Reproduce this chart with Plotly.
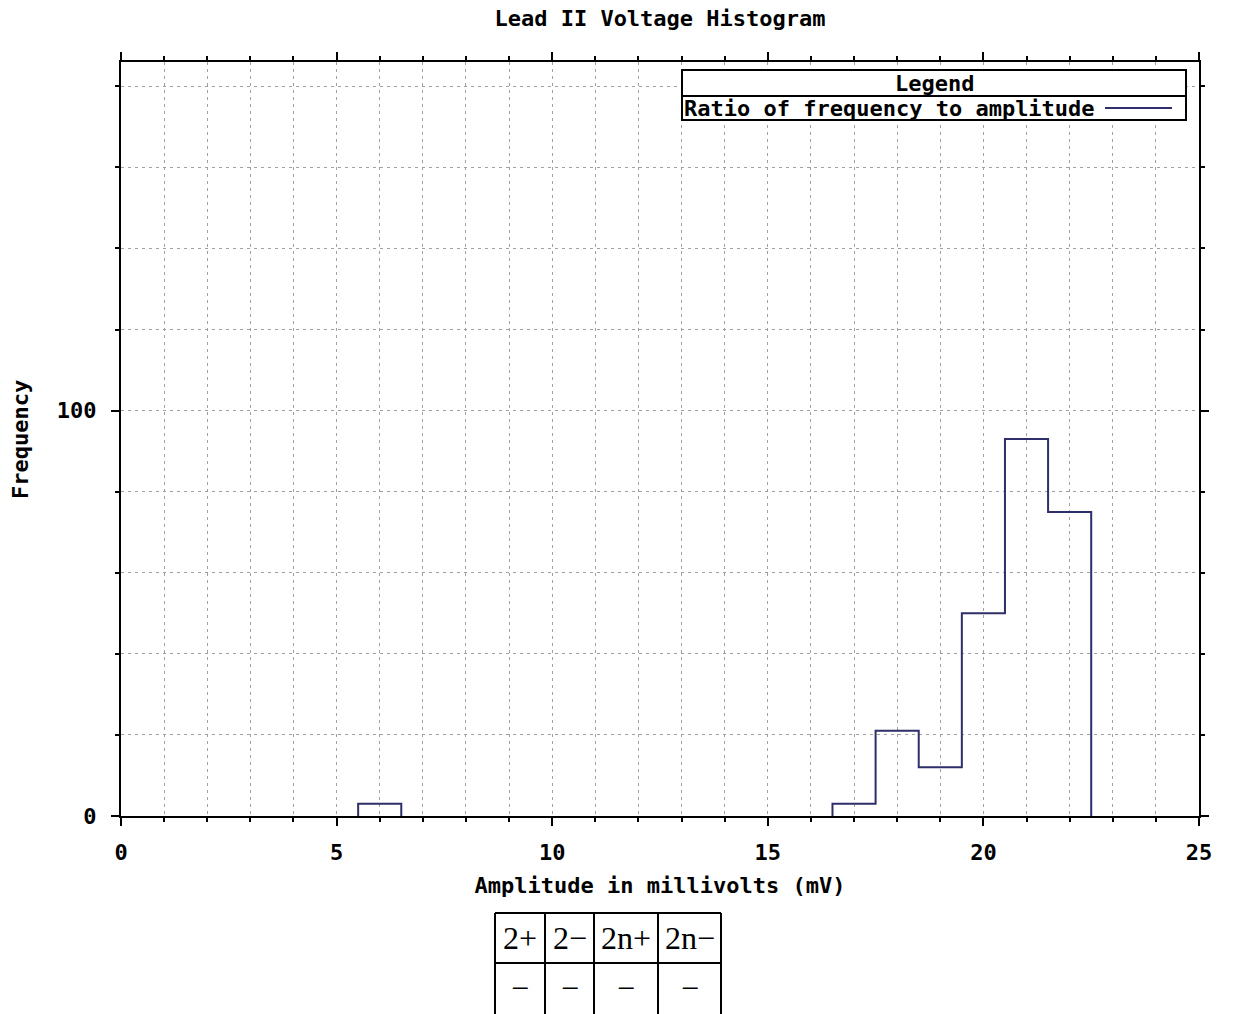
import plotly.graph_objects as go

# ---- data ----
bin_centers = [6, 17, 18, 19, 20, 21, 22]
counts      = [3, 3, 21, 12, 50, 93, 75]
bin_width = 1
series_name = "Ratio of frequency to amplitude"
chart_title = "Lead II Voltage Histogram"
x_title = "Amplitude in millivolts (mV)"
y_title = "Frequency"
x_range = [0, 25]
y_range = [0, 186]
table_header = ["2+", "2\u2212", "2n+", "2n\u2212"]
table_row = ["\u2212", "\u2212", "\u2212", "\u2212"]

W, H = 1234, 1014
L, R, T, B = 121, 35, 62, 198
PW, PH = W - L - R, H - T - B

def px_x(p):
    return (p - L) / PW

def px_y(p):
    return (H - B - p) / PH

MONO = "DejaVu Sans Mono"
LINE = "#2e2e6a"
FS = 22

# step outline of the histogram (gnuplot "histeps"), built from the bins
sx, sy = [], []
prev_right = None
for c, n in zip(bin_centers, counts):
    left, right = c - bin_width / 2, c + bin_width / 2
    if prev_right is None or abs(left - prev_right) > 1e-9:
        if prev_right is not None:
            sx += [prev_right, None]
            sy += [0, None]
        sx += [left]
        sy += [0]
    sx += [left, right]
    sy += [n, n]
    prev_right = right
sx += [prev_right]
sy += [0]

fig = go.Figure()
fig.add_trace(go.Scatter(
    x=sx, y=sy, mode="lines", connectgaps=False,
    line=dict(color=LINE, width=2), name=series_name, showlegend=False,
    hoverinfo="skip"))

grid = dict(showgrid=True, gridcolor="#a0a0a0", griddash="3px,4px", gridwidth=1)
axfont = dict(family=MONO, size=FS, color="black", weight="bold")

fig.update_xaxes(
    range=x_range, dtick=5, tick0=0, ticks="outside", ticklen=8, tickwidth=2,
    tickcolor="black", showline=True, linewidth=2, linecolor="black",
    mirror="allticks", zeroline=False, ticklabelstandoff=8,
    tickfont=axfont,
    title=dict(text=x_title, standoff=13, font=axfont),
    minor=dict(dtick=1, ticks="outside", ticklen=4, tickwidth=2,
               tickcolor="black", **grid),
    **grid)
fig.update_yaxes(
    range=y_range, dtick=100, tick0=0, ticks="outside", ticklen=8, tickwidth=2,
    tickcolor="black", showline=True, linewidth=2, linecolor="black",
    mirror="allticks", zeroline=False, ticklabelstandoff=10,
    tickfont=axfont,
    minor=dict(dtick=20, ticks="outside", ticklen=4, tickwidth=2,
               tickcolor="black", **grid),
    **grid)

shapes = []
annotations = []

# y-axis title
annotations.append(dict(text=y_title, xref="paper", yref="paper",
                        x=px_x(20), y=px_y(440), textangle=-90, showarrow=False,
                        xanchor="center", yanchor="middle", font=axfont))

# legend box (drawn manually, gnuplot style)
lx0, lx1 = px_x(682), px_x(1186)
ly_top, ly_mid, ly_bot = px_y(70), px_y(96), px_y(120)
shapes.append(dict(type="rect", xref="paper", yref="paper", x0=lx0, x1=lx1,
                   y0=ly_bot, y1=ly_top, line=dict(color="black", width=2),
                   fillcolor="white", layer="above"))
shapes.append(dict(type="line", xref="paper", yref="paper", x0=lx0, x1=lx1,
                   y0=ly_mid, y1=ly_mid, line=dict(color="black", width=2),
                   layer="above"))
shapes.append(dict(type="line", xref="paper", yref="paper", x0=px_x(1105),
                   x1=px_x(1172), y0=px_y(108), y1=px_y(108),
                   line=dict(color=LINE, width=2), layer="above"))
annotations.append(dict(text="Legend", xref="paper", yref="paper",
                        x=(lx0 + lx1) / 2, y=px_y(83), showarrow=False,
                        xanchor="center", yanchor="middle", font=axfont))
annotations.append(dict(text=series_name, xref="paper", yref="paper",
                        x=lx0, y=px_y(108), showarrow=False,
                        xanchor="left", yanchor="middle", font=axfont))

# html-like table under the chart
col_edges = [495, 545, 594, 658, 721]
row_edges = [913, 963, 1013]
for cx in col_edges:
    shapes.append(dict(type="line", xref="paper", yref="paper",
                       x0=px_x(cx), x1=px_x(cx), y0=px_y(row_edges[0]),
                       y1=px_y(1020), line=dict(color="black", width=2)))
for ry in row_edges[:2]:
    shapes.append(dict(type="line", xref="paper", yref="paper",
                       x0=px_x(col_edges[0]), x1=px_x(col_edges[-1]),
                       y0=px_y(ry), y1=px_y(ry), line=dict(color="black", width=2)))
for r_i, row in enumerate([table_header, table_row]):
    yc = (row_edges[r_i] + row_edges[r_i + 1]) / 2
    for c_i, txt in enumerate(row):
        xc = (col_edges[c_i] + col_edges[c_i + 1]) / 2
        annotations.append(dict(text=txt, xref="paper", yref="paper",
                                x=px_x(xc), y=px_y(yc), showarrow=False,
                                xanchor="center", yanchor="middle",
                                font=dict(family="Liberation Serif", size=32,
                                          color="black")))

fig.update_layout(
    width=W, height=H,
    margin=dict(l=L, r=R, t=T, b=B, autoexpand=False),
    paper_bgcolor="white", plot_bgcolor="white",
    title=dict(text=chart_title, x=660 / W, xref="container",
               xanchor="center", y=1 - 18 / H, yref="container", yanchor="middle",
               font=axfont),
    shapes=shapes, annotations=annotations, showlegend=False)

fig.write_html("out.html")
